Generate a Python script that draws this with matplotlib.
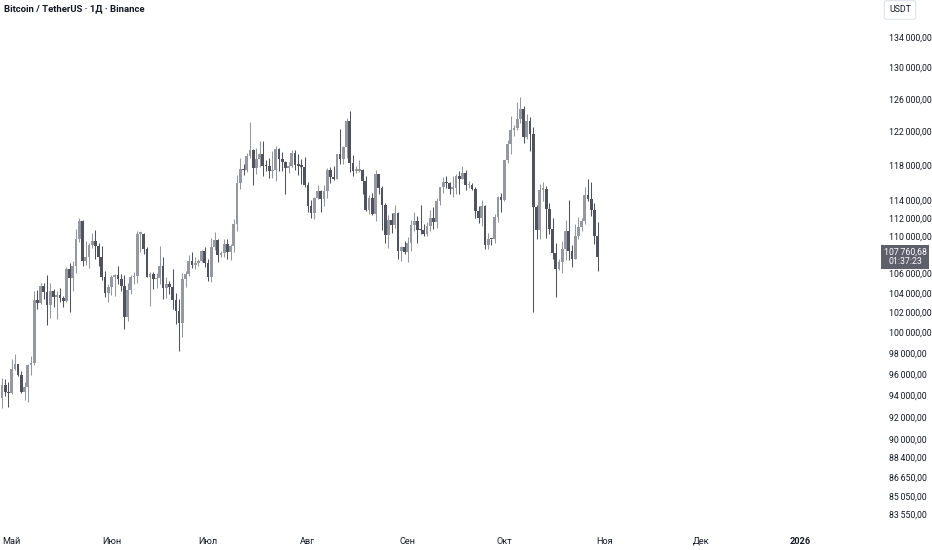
import matplotlib
matplotlib.use("Agg")
import matplotlib.pyplot as plt
import matplotlib.dates as mdates
import matplotlib.transforms as mtransforms
import numpy as np
import pandas as pd

plt.rcParams['font.family'] = ['Roboto', 'DejaVu Sans']

# daily candles, BTC/USDT, 28 Apr 2025 .. 30 Oct 2025
start_date = "2025-04-28"
opens = [93750, 94980, 94280, 94170, 96490, 96910, 95890, 94320, 94750, 96830,
         97030, 103240, 102970, 104700, 104110, 102800, 104150, 103540, 103740, 103490,
         103130, 106450, 105590, 106830, 109650, 111700, 107300, 107800, 109000, 109440,
         108940, 107780, 105640, 103980, 104590, 105640, 105880, 105430, 104750, 101510,
         104290, 105620, 105790, 110260, 110260, 108640, 105670, 105990, 105410, 105590,
         106790, 104550, 104880, 104640, 103300, 102120, 100960, 105400, 106000, 107330,
         106950, 107100, 107330, 108390, 107140, 105680, 108850, 109600, 107980, 108220,
         109200, 108260, 108920, 111330, 115990, 117520, 117420, 119090, 119840, 117680,
         118760, 119290, 117950, 117890, 117300, 117440, 119960, 118750, 118340, 117640,
         117920, 119450, 118060, 117950, 117840, 115760, 113300, 112530, 114210, 115050,
         114120, 114990, 117500, 116670, 116460, 119290, 118690, 120140, 123340, 118300,
         117340, 117380, 117400, 116230, 112870, 114270, 112500, 116940, 115370, 113490,
         110110, 111760, 111260, 112570, 108380, 108820, 108250, 109240, 111240, 111700,
         110730, 110660, 110190, 111140, 112060, 111550, 113960, 115500, 116100, 115950,
         115270, 115350, 116790, 116470, 117140, 115690, 115730, 115310, 112750, 112000,
         113330, 109050, 109700, 109650, 112150, 114400, 114050, 118600, 120530, 122230,
         122390, 123480, 124750, 121400, 123300, 121690, 113200, 110650, 115170, 115270,
         113030, 110760, 108190, 106450, 107200, 108640, 110530, 108430, 107600, 110060,
         111000, 111650, 114550, 114100, 112900, 110050]
highs = [95600, 95470, 95200, 97440, 97900, 96940, 96300, 95200, 96950, 97730,
         104150, 104300, 104980, 105000, 105820, 104990, 104370, 104200, 104550, 103720,
         106660, 107110, 107300, 110800, 111980, 111800, 109500, 109300, 110400, 110700,
         109300, 108900, 106300, 104900, 105880, 105980, 106800, 106000, 105900, 105000,
         105900, 106200, 110600, 110380, 110400, 108800, 106200, 106200, 106100, 108900,
         107800, 105600, 105250, 106500, 104000, 103400, 106100, 106300, 108000, 108300,
         107800, 107600, 108500, 108800, 107550, 109800, 110500, 109750, 108450, 109700,
         109700, 109200, 111900, 116870, 118900, 118200, 119500, 123220, 119950, 120000,
         120850, 120900, 118600, 118850, 119700, 120250, 120100, 119550, 118450, 118350,
         119800, 119800, 119300, 118800, 118950, 116100, 114050, 114400, 115700, 115100,
         115700, 117650, 117750, 117900, 119300, 122300, 120300, 123650, 124470, 119200,
         117900, 118600, 117600, 116800, 114600, 114800, 117400, 117000, 115650, 113650,
         112350, 112600, 113450, 112650, 108950, 109500, 109900, 111750, 112650, 112200,
         113400, 111300, 111600, 112900, 113200, 114300, 115500, 116650, 116800, 116100,
         116800, 117000, 117300, 117900, 117450, 116150, 115950, 115450, 113300, 114000,
         113500, 110300, 109750, 112400, 114450, 114800, 118650, 121000, 123900, 122850,
         125700, 126200, 125150, 124200, 123750, 122550, 113450, 115800, 116050, 115600,
         113700, 112000, 109250, 107500, 109450, 111750, 114000, 109100, 111300, 112100,
         111950, 115450, 116400, 116100, 113650, 111600]
lows = [92800, 93900, 92900, 94110, 96320, 95750, 94140, 93500, 93380, 95850,
        96880, 102320, 102820, 103330, 100720, 101430, 102600, 101380, 103100, 102600,
        103110, 102000, 104220, 106100, 109330, 106800, 106900, 106600, 108700, 107550,
        106800, 105320, 103600, 103100, 103800, 103700, 104870, 104200, 100380, 101100,
        103900, 104950, 105050, 108340, 108100, 105700, 102660, 104400, 104500, 104900,
        103400, 103500, 103900, 102350, 100800, 98200, 99600, 104600, 105800, 106600,
        106500, 106800, 107200, 106750, 105250, 105100, 108500, 107250, 107800, 107800,
        107500, 107400, 108350, 110600, 115250, 116900, 117250, 118900, 115740, 116950,
        117850, 116800, 117300, 116500, 116500, 116150, 117300, 117300, 114700, 117150,
        117850, 117400, 116900, 115800, 115500, 112700, 112000, 111900, 114100, 112650,
        113350, 114250, 115900, 116300, 116450, 118100, 118200, 118900, 117180, 116800,
        117100, 117250, 114700, 112750, 112400, 112350, 111700, 114700, 110650, 109300,
        108700, 110350, 110850, 107500, 107350, 108050, 107250, 108400, 110600, 109300,
        110200, 110000, 110000, 110600, 110800, 110950, 113400, 114800, 115400, 114700,
        114400, 114750, 114700, 116400, 115150, 115400, 115200, 112000, 111500, 111100,
        108650, 108650, 109100, 109250, 111550, 112650, 113950, 118300, 119300, 121500,
        122150, 123100, 120600, 121100, 119650, 102000, 109750, 109650, 113900, 109850,
        110200, 107500, 103550, 106350, 106100, 107450, 107450, 106650, 107500, 109650,
        110550, 111300, 113850, 112200, 109200, 106300]
closes = opens[1:] + [107760.68]

month_names = ["Май", "Июн", "Июл", "Авг", "Сен", "Окт", "Ноя", "Дек", "2026"]
month_dates = ["2025-05-01", "2025-06-01", "2025-07-01", "2025-08-01", "2025-09-01",
               "2025-10-01", "2025-11-01", "2025-12-01", "2026-01-01"]
price_ticks = [134000, 130000, 126000, 122000, 118000, 114000, 112000, 110000, 106000,
               104000, 102000, 100000, 98000, 96000, 94000, 92000, 90000, 88400,
               86650, 85050, 83550]

up_col = '#9598a1'
down_col = '#50535e'
text_col = '#131722'
NSP = '\u202f'  # narrow space, thousands separator


def fmt(v):
    return f"{v:,.2f}".replace(",", NSP).replace(".", ",")


dates = pd.date_range(start_date, periods=len(closes), freq="D")
x = mdates.date2num(dates)
o = np.array(opens, float)
h = np.array(highs, float)
l = np.array(lows, float)
c = np.array(closes, float)
cols = np.where(c >= o, up_col, down_col)

fig = plt.figure(figsize=(9.32, 5.5), dpi=100)
fig.patch.set_facecolor('white')
W, H = 932, 550
ax = fig.add_axes([0, 22 / H, 878 / W, 528 / H])

px_day = 3.22
x_left = x[0] - 2 / px_day
ax.set_xlim(x_left, x_left + 878 / px_day)
ax.set_yscale('log')
ax.set_ylim(82400, 138990)

ax.vlines(x, l, h, colors=cols, linewidth=0.75)
body_lo = np.minimum(o, c)
body_h = np.maximum(np.abs(c - o), body_lo * 0.0015)
ax.bar(x, body_h, bottom=body_lo, width=0.85, color=cols, linewidth=0)

for s in ax.spines.values():
    s.set_visible(False)
ax.set_xticks([])
ax.yaxis.tick_right()
ax.yaxis.set_minor_locator(matplotlib.ticker.NullLocator())
ax.set_yticks(price_ticks)
ax.set_yticklabels([fmt(v) for v in price_ticks])
ax.tick_params(axis='y', length=0, pad=8, labelsize=6.3, labelcolor=text_col)

# month labels under the chart
trans = mtransforms.blended_transform_factory(ax.transData, ax.transAxes)
for name, d in zip(month_names, month_dates):
    xd = mdates.date2num(pd.Timestamp(d))
    ax.text(xd, -13 / 528, name, transform=trans, ha='center', va='center',
            fontsize=6.6, color=text_col, clip_on=False,
            fontweight='bold' if name == "2026" else 'normal')

# title
fig.text(4 / W, 1 - 9 / H, "Bitcoin / TetherUS · 1Д · Binance", ha='left', va='center',
         fontsize=6.8, fontweight='bold', color=text_col)

# currency box
fig.text(900 / W, 1 - 10 / H, "USDT", ha='center', va='center', fontsize=6.3,
         color=text_col,
         bbox=dict(boxstyle='round,pad=0.55,rounding_size=0.3', fc='white', ec='#e0e3eb', lw=0.8))

# last price label
ytr = mtransforms.blended_transform_factory(fig.transFigure, ax.transData)
ax.text(905 / W, c[-1], fmt(c[-1]) + "\n01:37:23", transform=ytr, ha='center', va='center',
        fontsize=6.3, color='white', linespacing=1.05, clip_on=False,
        bbox=dict(boxstyle='square,pad=0.3', fc='#5d606b', ec='none'))

fig.savefig("out.png", dpi=100, facecolor='white')
